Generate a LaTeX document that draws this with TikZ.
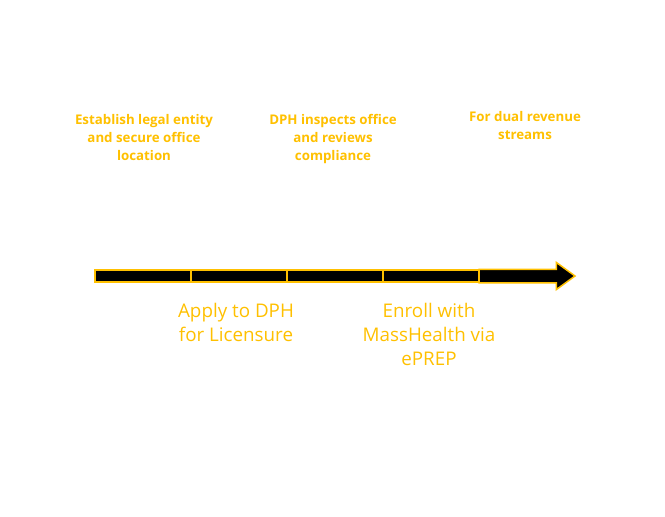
\documentclass[tikz,border=0pt]{standalone}
\usepackage{fontspec}
\setmainfont{Open Sans}
\usetikzlibrary{shapes.arrows,positioning}
\definecolor{ambre}{HTML}{FFC000}

\begin{document}
\begin{tikzpicture}[%
    x=1pt, y=-1pt,%
    segment/.style={draw=ambre, fill=black, line width=1.5pt,%
        minimum width=96pt, minimum height=12pt, inner sep=0pt, outer sep=0pt},%
    fleche/.style={single arrow, draw=ambre, fill=black, line width=1.5pt,%
        minimum height=96pt, inner xsep=0pt, inner ysep=6pt, outer sep=0pt,%
        single arrow head extend=6.85pt, single arrow tip angle=72},%
    etiquette haut/.style={text=ambre, align=center, inner sep=0pt,%
        font=\fontsize{13.3}{18}\selectfont\bfseries},%
    etiquette bas/.style={text=ambre, align=center, inner sep=0pt,%
        font=\fontsize{18.8}{24}\selectfont}%
    ]
    % Cadre
    \useasboundingbox (0,0) rectangle (665,517);

    %
    % Axe du temps
    %
    \node[segment] (seg1) at (143,276) {};
    \node[segment] (seg2) at (239,276) {};
    \node[segment] (seg3) at (335,276) {};
    \node[segment] (seg4) at (431,276) {};
    \node[fleche, anchor=tail] (seg5) at (seg4.east) {};

    % Etapes au-dessus
    \node[etiquette haut, anchor=north] (entite) at (144,114)
        {Establish legal entity\\and secure office\\location};
    \node[etiquette haut, anchor=north] (inspection) at (333,114)
        {DPH inspects office\\and reviews\\compliance};
    \node[etiquette haut, anchor=north] (revenus) at (525,111)
        {For dual revenue\\streams};

    % Etapes au-dessous
    \node[etiquette bas, below=21pt of seg2, xshift=-3pt] (licence)
        {Apply to DPH\\for Licensure};
    \node[etiquette bas, below=21pt of seg4, xshift=-2pt] (masshealth)
        {Enroll with\\MassHealth via\\ePREP};

\end{tikzpicture}
\end{document}
